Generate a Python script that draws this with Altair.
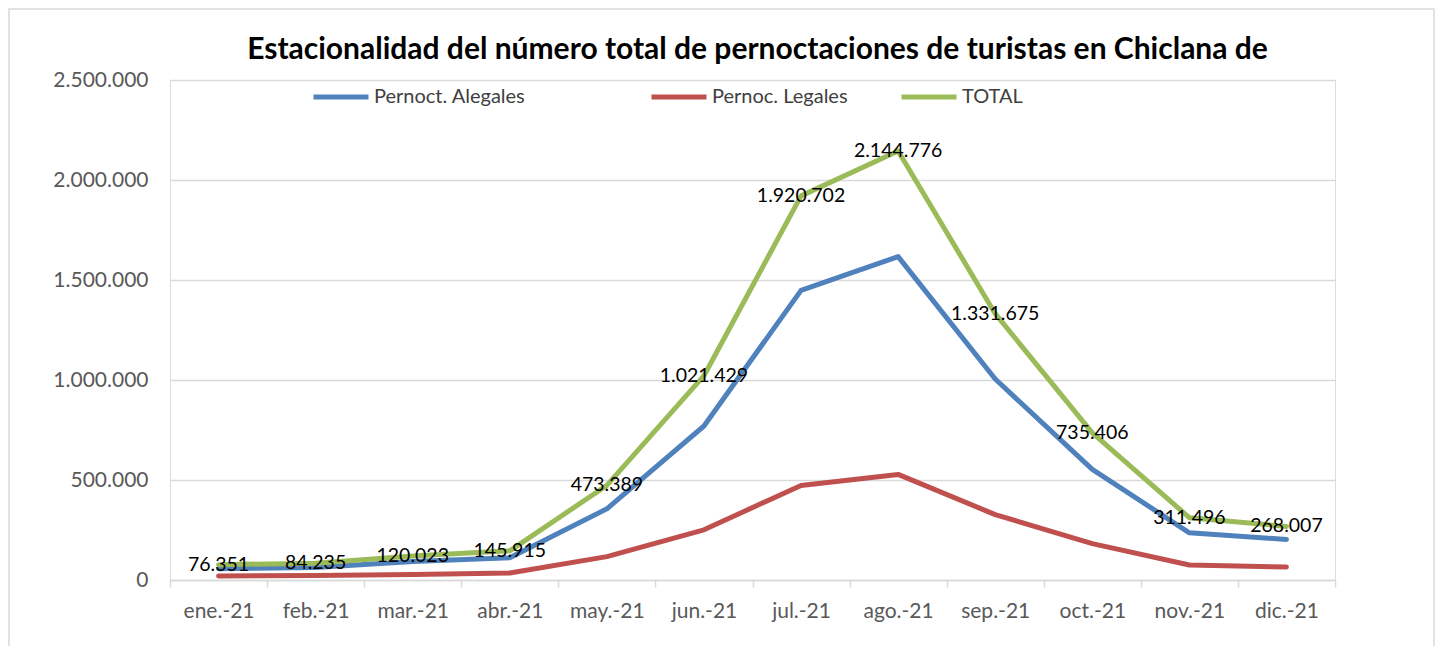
import altair as alt
import pandas as pd

months = ["ene.-21", "feb.-21", "mar.-21", "abr.-21", "may.-21", "jun.-21",
          "jul.-21", "ago.-21", "sep.-21", "oct.-21", "nov.-21", "dic.-21"]
alegales = [56000, 62000, 92000, 111000, 356000, 770000,
            1448000, 1617000, 1005000, 553000, 236000, 203000]
legales = [20000, 22000, 28000, 35000, 117000, 251000,
           473000, 528000, 327000, 182000, 75000, 65000]
total = [76351, 84235, 120023, 145915, 473389, 1021429,
         1920702, 2144776, 1331675, 735406, 311496, 268007]

series_names = ["Pernoct. Alegales", "Pernoc. Legales", "TOTAL"]
series_colors = ["#4F81BD", "#C0504D", "#9BBB59"]
title_text = "Estacionalidad del número  total de pernoctaciones de turistas en Chiclana de"

df_a = pd.DataFrame({"mes": months, "valor": alegales, "serie": series_names[0]})
rows = []
for name, vals in zip(series_names[1:], [legales, total]):
    for m, v in zip(months, vals):
        rows.append({"mes": m, "serie": name, "valor": v, "orden": series_names.index(name)})
df_b = pd.DataFrame(rows)

df_total = pd.DataFrame({
    "mes": months,
    "valor": total,
    "etiqueta": [f"{v:,}".replace(",", ".") for v in total],
})

FONT = "Lato"

x_enc = alt.X(
    "mes:N",
    sort=months,
    scale=alt.Scale(type="band", paddingInner=0, paddingOuter=0),
    bandPosition=0.5,
    axis=alt.Axis(
        title=None, labelAngle=0, labelFontSize=21, labelColor="#595959",
        labelFont=FONT, domainColor="#d9d9d9", domainWidth=1.5,
        tickColor="#d9d9d9", tickWidth=1.5, tickSize=7, tickBand="extent",
        labelPadding=13, grid=False,
    ),
)
y_enc = alt.Y(
    "valor:Q",
    scale=alt.Scale(domain=[0, 2500000], nice=False),
    axis=alt.Axis(
        title=None, values=[0, 500000, 1000000, 1500000, 2000000, 2500000],
        labelExpr="replace(format(datum.value, ','), regexp(',', 'g'), '.')",
        labelFontSize=21, labelColor="#595959", labelFont=FONT,
        labelPadding=22, ticks=False, domain=False,
        gridColor="#d9d9d9", gridWidth=1.5,
    ),
)

legend_common = dict(
    title=None, orient="none", direction="horizontal", legendY=-13,
    symbolType="stroke", symbolSize=3025, symbolStrokeWidth=5,
    labelFontSize=20, labelFont=FONT, labelColor="#404040", labelOffset=3,
    labelLimit=400,
)

line_kw = dict(strokeWidth=5, strokeCap="round", strokeJoin="round")

line_a = alt.Chart(df_a).mark_line(**line_kw).encode(
    x=x_enc,
    y=y_enc,
    stroke=alt.Stroke(
        "serie:N",
        scale=alt.Scale(domain=series_names[:1], range=series_colors[:1]),
        legend=alt.Legend(legendX=141, **legend_common),
    ),
)

line_b = alt.Chart(df_b).mark_line(**line_kw).encode(
    x=alt.X("mes:N", sort=months, bandPosition=0.5),
    y=alt.Y("valor:Q"),
    color=alt.Color(
        "serie:N",
        scale=alt.Scale(domain=series_names[1:], range=series_colors[1:]),
        legend=alt.Legend(legendX=479, columnPadding=43, **legend_common),
    ),
    order=alt.Order("orden:Q"),
    detail="serie:N",
)

labels = alt.Chart(df_total).mark_text(
    fontSize=19.5, font=FONT, color="#000000", align="center", baseline="middle"
).encode(
    x=alt.X("mes:N", sort=months, bandPosition=0.5),
    y=alt.Y("valor:Q"),
    text="etiqueta:N",
)

border = alt.Chart(pd.DataFrame({"k": [0]})).mark_rect(
    fillOpacity=0, stroke="#d9d9d9", strokeWidth=1.5, clip=False
).encode(
    x=alt.value(-161), x2=alt.value(1264), y=alt.value(-71), y2=alt.value(600)
)

chart = alt.layer(border, line_a, line_b, labels).resolve_scale(
    color="independent", stroke="independent"
).properties(
    width=1165,
    height=500,
    title=alt.TitleParams(
        title_text, font=FONT, fontSize=30, fontWeight="bold", color="#000000",
        anchor="middle", offset=0, dy=81, dx=5, baseline="alphabetic",
    ),
    autosize=alt.AutoSizeParams(type="none"),
    padding={"left": 162, "top": 72, "right": 100, "bottom": 66},
).configure_view(stroke=None).configure(background="#ffffff")

chart.save("out.html", embed_options={"renderer": "svg", "actions": False})
